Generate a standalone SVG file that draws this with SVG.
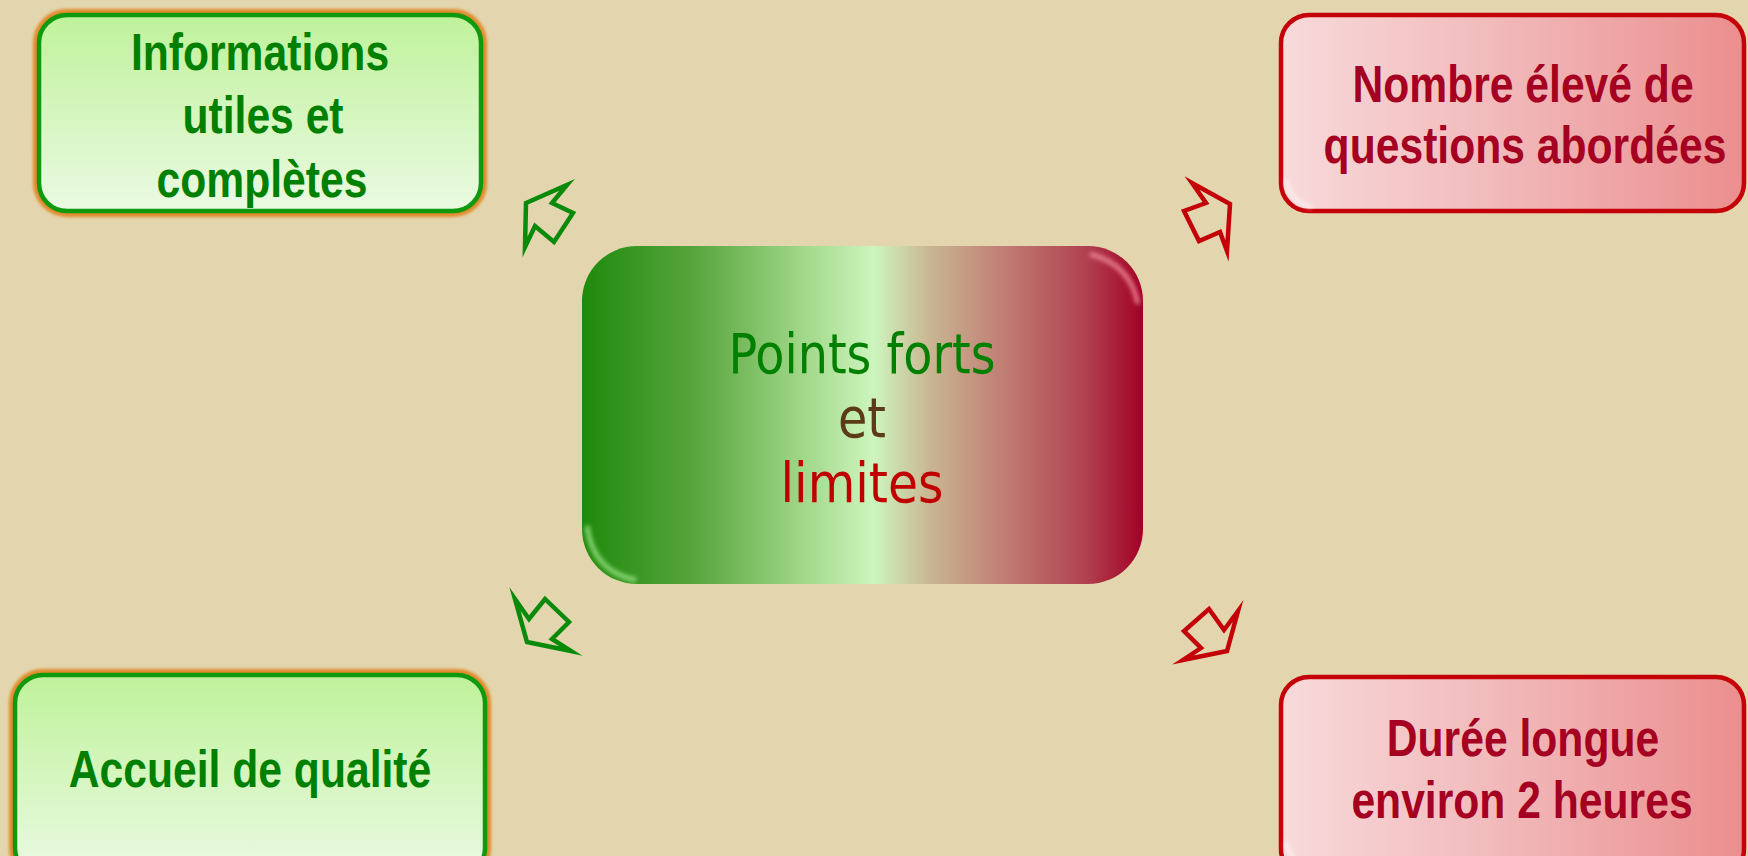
<svg xmlns="http://www.w3.org/2000/svg" width="1748" height="856" viewBox="0 0 1748 856">
<defs>
<linearGradient id="gGreen" x1="0" y1="0" x2="0" y2="1">
<stop offset="0" stop-color="#bff29a"/>
<stop offset="1" stop-color="#ebfae3"/>
</linearGradient>
<linearGradient id="gRed" x1="0" y1="0" x2="1" y2="0">
<stop offset="0" stop-color="#f8dadb"/>
<stop offset="0.5" stop-color="#f1b7b8"/>
<stop offset="1" stop-color="#eb8e8e"/>
</linearGradient>
<linearGradient id="gCenter" x1="0" y1="0" x2="1" y2="0">
<stop offset="0" stop-color="#1e8a0c"/>
<stop offset="0.2" stop-color="#57a53c"/>
<stop offset="0.4" stop-color="#a3d98b"/>
<stop offset="0.52" stop-color="#cdf5be"/>
<stop offset="0.62" stop-color="#c9b692"/>
<stop offset="0.76" stop-color="#c07a72"/>
<stop offset="0.9" stop-color="#b0404e"/>
<stop offset="1" stop-color="#a30027"/>
</linearGradient>
<filter id="glow" x="-5%" y="-5%" width="110%" height="110%">
<feGaussianBlur stdDeviation="1.5"/>
</filter>
<filter id="soft" x="-20%" y="-20%" width="140%" height="140%">
<feGaussianBlur stdDeviation="2"/>
</filter>
<style>
.bg{fill:#e3d6ae}
.gbox{fill:url(#gGreen);stroke:#0f990f;stroke-width:4.5}
.gglow{fill:none;stroke:#e08a2a;stroke-width:8;filter:url(#glow)}
.rbox{fill:url(#gRed);stroke:#c40008;stroke-width:4.5}
.gt{font-family:"Liberation Sans",Arial,sans-serif;font-weight:bold;font-size:52px;fill:#008000;text-anchor:middle}
.rt{font-family:"Liberation Sans",Arial,sans-serif;font-weight:bold;font-size:52px;fill:#a50021;text-anchor:middle}
.ct{font-family:"DejaVu Sans Condensed","DejaVu Sans",Verdana,sans-serif;font-size:55px;text-anchor:middle}
.ga{fill:none;stroke:#0a8a0a;stroke-width:4.5;stroke-linejoin:miter;stroke-miterlimit:10}
.ra{fill:none;stroke:#c40008;stroke-width:4.5;stroke-linejoin:miter;stroke-miterlimit:10}
</style>
</defs>
<rect class="bg" x="0" y="0" width="1748" height="856"/>

<g id="center">
<rect x="582" y="246" width="561" height="338" rx="55" ry="55" fill="url(#gCenter)"/>
<path d="M1090,254 Q1130,264 1138,304" fill="none" stroke="#f08a9a" stroke-width="5" opacity="0.8" filter="url(#soft)"/>
<path d="M587,526 Q593,572 636,580" fill="none" stroke="#9ee68a" stroke-width="5" opacity="0.8" filter="url(#soft)"/>
<text class="ct" x="862" y="373" fill="#008000" textLength="267" lengthAdjust="spacingAndGlyphs">Points forts</text>
<text class="ct" x="862" y="437" fill="#5c3b17" textLength="48" lengthAdjust="spacingAndGlyphs">et</text>
<text class="ct" x="862" y="502" fill="#c00000" textLength="163" lengthAdjust="spacingAndGlyphs">limites</text>
</g>

<g id="n-informations">
<rect class="gglow" x="37" y="13" width="446" height="200" rx="30" ry="30"/>
<rect class="gbox" x="39" y="15" width="442" height="196" rx="28" ry="28"/>
<text class="gt" transform="translate(260,70) scale(0.82,1)" x="0" y="0">Informations</text>
<text class="gt" transform="translate(263,133) scale(0.82,1)" x="0" y="0">utiles et</text>
<text class="gt" transform="translate(262,197) scale(0.82,1)" x="0" y="0">complètes</text>
</g>

<g id="n-accueil">
<rect class="gglow" x="13" y="673" width="474" height="205" rx="30" ry="30"/>
<rect class="gbox" x="15" y="675" width="470" height="201" rx="28" ry="28"/>
<text class="gt" transform="translate(250,787) scale(0.82,1)" x="0" y="0">Accueil de qualité</text>
</g>

<g id="n-nombre">
<rect class="rbox" x="1281" y="15" width="463" height="196" rx="28" ry="28"/>
<path d="M1286,180 Q1290,202 1312,207" fill="none" stroke="#ffffff" stroke-width="4" opacity="0.6" filter="url(#soft)"/>
<text class="rt" transform="translate(1523,102) scale(0.82,1)" x="0" y="0">Nombre élevé de</text>
<text class="rt" transform="translate(1525,163) scale(0.82,1)" x="0" y="0">questions abordées</text>
</g>

<g id="n-duree">
<rect class="rbox" x="1281" y="677" width="463" height="200" rx="28" ry="28"/>
<path d="M1286,842 Q1290,864 1312,869" fill="none" stroke="#ffffff" stroke-width="4" opacity="0.6" filter="url(#soft)"/>
<text class="rt" transform="translate(1523,756) scale(0.82,1)" x="0" y="0">Durée longue</text>
<text class="rt" transform="translate(1522,818) scale(0.82,1)" x="0" y="0">environ 2 heures</text>
</g>

<g id="connectors">
<polygon class="ga" points="526,203 567,185 552,203 573,213 554,242 535,226 525,247"/>
<polygon class="ra" points="1192,183 1230,204 1227,251 1220,232 1199,241 1184,211 1206,203"/>
<polygon class="ga" points="515,599 529,619 545,599 569,622 552,639 571,651 527,642"/>
<polygon class="ra" points="1209,609 1224,630 1238,611 1227,651 1183,660 1201,648 1184,631"/>
</g>
</svg>
